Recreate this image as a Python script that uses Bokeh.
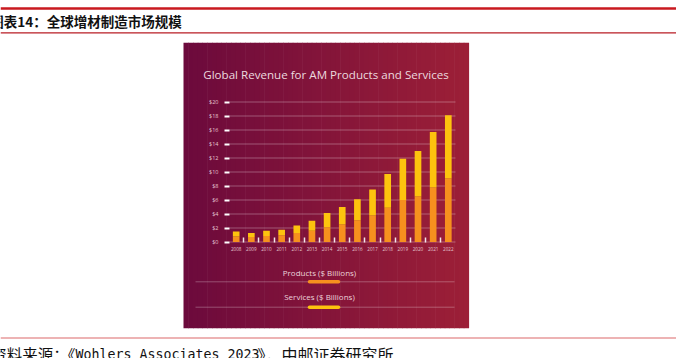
import numpy as np
from bokeh.plotting import figure
from bokeh.models import Range1d, LinearAxis, FixedTicker
from bokeh.core.properties import value
from bokeh.embed import file_html
from bokeh.resources import INLINE

# ---------------- data ----------------
years = list(range(2008, 2023))
products = [0.8, 0.7, 0.85, 0.95, 1.3, 1.6, 2.1, 2.5, 3.1, 3.8, 4.9, 6.0, 6.5, 7.8, 9.1]
services = [0.7, 0.6, 0.75, 0.8, 1.05, 1.45, 2.05, 2.5, 3.0, 3.7, 4.8, 5.9, 6.5, 7.9, 9.0]
y_ticks = [0, 2, 4, 6, 8, 10, 12, 14, 16, 18, 20]
y_tick_labels = ["$0", "$2", "$4", "$6", "$8", "$10", "$12", "$14", "$16", "$18", "$20"]
x_tick_labels = [str(y) for y in years]
legend_labels = ["Products ($ Billions)", "Services ($ Billions)"]
chart_title = "Global Revenue for AM Products and Services"
page_title = "图表14：全球增材制造市场规模"
source_parts = ["资料来源：", "《", "Wohlers Associates 2023", "》，中邮证券研究所"]

totals = [a + b for a, b in zip(products, services)]

# ---------------- layout helpers (page pixels -> data) ----------------
W, H, M = 676, 358, 0
X0_PAGE, DX = 235.7, 15.15
Y0_PAGE, DY = 241.5, 7.0


def px(p):
    return years[0] + (p - X0_PAGE) / DX


def py(p):
    return (Y0_PAGE - p) / DY


p = figure(width=W, height=H,
           x_range=Range1d(px(M), px(M + W)), y_range=Range1d(py(M + H), py(M)),
           output_backend="svg", toolbar_location=None,
           x_axis_location=None, y_axis_location=None,
           min_border=0, outline_line_color=None)
p.title.visible = False
p.background_fill_color = "white"
p.border_fill_color = "white"
for g in p.xgrid + p.ygrid:
    g.visible = False

# ---------------- page decorations ----------------
RED = "#c9191f"
p.quad(left=px(0), right=px(676), top=py(6.8), bottom=py(9.2), fill_color=RED, line_color=None)
p.segment(x0=px(0), x1=px(676), y0=py(32.3), y1=py(32.3), line_color="#b81c24", line_width=1.2)
p.text(x=[px(-10.2)], y=[py(20)], text=[page_title], text_align="left", text_baseline="middle",
       text_font=value("Noto Sans CJK SC"), text_font_size="13.5px", text_color="#111111",
       text_font_style="bold")
p.segment(x0=px(0), x1=px(676), y0=py(337.5), y1=py(337.5), line_color="#e79a9b", line_width=1.6)

SRC_Y = py(353.5)
p.text(x=[px(-9.3)], y=[SRC_Y], text=[source_parts[0]], text_align="left", text_baseline="middle",
       text_font=value("Noto Sans CJK SC"), text_font_size="15.5px", text_color="#111111")
p.text(x=[px(75)], y=[SRC_Y], text=[source_parts[1]], text_align="right", text_baseline="middle",
       text_font=value("Noto Sans CJK SC"), text_font_size="15.5px", text_color="#111111")
p.text(x=[px(75)], y=[SRC_Y], text=[source_parts[2]], text_align="left", text_baseline="middle",
       text_font=value("DejaVu Sans Mono"), text_font_size="13.3px", text_color="#111111")
p.text(x=[px(257)], y=[SRC_Y], text=[source_parts[3]], text_align="left", text_baseline="middle",
       text_font=value("Noto Sans CJK SC"), text_font_size="16px", text_color="#111111")

# ---------------- chart panel background (gradient) ----------------
n = 60
edges = np.linspace(183, 468, n + 1)
c0 = np.array([0x6c, 0x0a, 0x3c])
c1 = np.array([0x9c, 0x1f, 0x37])
cols = []
for i in range(n):
    t = i / (n - 1)
    c = (c0 + (c1 - c0) * t).round().astype(int)
    cols.append("#%02x%02x%02x" % tuple(c))
p.quad(left=[px(e) for e in edges[:-1]], right=[px(e + 0.6) for e in edges[1:]],
       top=py(42.3), bottom=py(327.7), fill_color=cols, line_color=None)

# chart title
p.text(x=[px(325.5)], y=[py(74)], text=[chart_title], text_align="center", text_baseline="middle",
       text_font=value("Open Sans"), text_font_size="11.6px", text_color="#ecd9df")

# gridlines
p.segment(x0=px(229), x1=px(455), y0=y_ticks, y1=y_ticks, line_color="white", line_alpha=0.3,
          line_width=1)

# bars
p.vbar(x=years, bottom=0, top=products, width=0.44, fill_color="#F6901E", line_color=None)
p.vbar(x=years, bottom=products, top=totals, width=0.44, fill_color="#FDC30E", line_color=None)

# axes
yax = LinearAxis(fixed_location=px(229), ticker=FixedTicker(ticks=y_ticks),
                 major_label_overrides=dict(zip(y_ticks, y_tick_labels)))
yax.axis_line_color = None
yax.major_tick_out = 5
yax.major_tick_in = 0
yax.major_tick_line_color = "white"
yax.major_tick_line_width = 2
yax.minor_tick_line_color = None
yax.major_label_standoff = 6
yax.major_label_text_font = "Open Sans"
yax.major_label_text_font_size = "5.5px"
yax.major_label_text_color = "#e6c6d0"
p.add_layout(yax, "left")

xax = LinearAxis(fixed_location=0,
                 ticker=FixedTicker(ticks=years, minor_ticks=[y + 0.5 for y in years[:-1]]),
                 major_label_overrides=dict(zip(years, x_tick_labels)))
xax.axis_line_color = None
xax.major_tick_out = 0
xax.major_tick_in = 0
xax.major_tick_line_color = None
xax.minor_tick_in = 5
xax.minor_tick_out = 0
xax.minor_tick_line_color = "#f3e6ea"
xax.minor_tick_line_width = 1.5
xax.major_label_standoff = 5
xax.major_label_text_font = "Open Sans"
xax.major_label_text_font_size = "4.6px"
xax.major_label_text_color = "#e6c6d0"
p.add_layout(xax, "below")

# legend
p.text(x=[px(319), px(319)], y=[py(271.7), py(295.7)], text=legend_labels, text_align="center",
       text_baseline="middle", text_font=value("Open Sans"), text_font_size="8px",
       text_color="#ecd3da")
p.segment(x0=px(195), x1=px(454), y0=[py(281.3), py(306.7)], y1=[py(281.3), py(306.7)],
          line_color="white", line_alpha=0.28, line_width=1)
p.segment(x0=px(309), x1=px(338), y0=[py(281.3), py(306.7)], y1=[py(281.3), py(306.7)],
          line_color=["#F6901E", "#FDC30E"], line_width=3.5, line_cap="round")

open("out.html", "w").write(file_html(p, INLINE))
